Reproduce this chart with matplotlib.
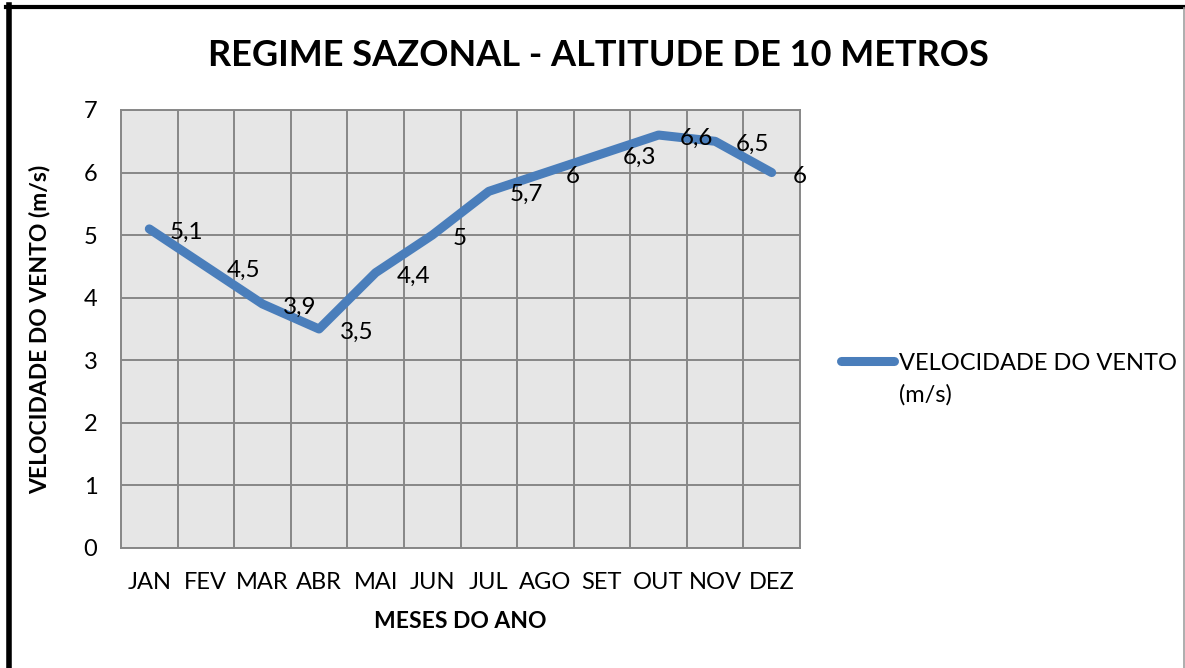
import numpy as np
import matplotlib
matplotlib.use('Agg')
import matplotlib.pyplot as plt
from matplotlib.lines import Line2D

MONTHS = ['JAN', 'FEV', 'MAR', 'ABR', 'MAI', 'JUN', 'JUL', 'AGO', 'SET', 'OUT', 'NOV', 'DEZ']
WIND_SPEED = [5.1, 4.5, 3.9, 3.5, 4.4, 5.0, 5.7, 6.0, 6.3, 6.6, 6.5, 6.0]
SERIES_LABEL = ['VELOCIDADE DO VENTO', '(m/s)']
TITLE = 'REGIME SAZONAL - ALTITUDE DE 10 METROS'
X_LABEL = 'MESES DO ANO'
Y_LABEL = 'VELOCIDADE DO VENTO (m/s)'

LINE_COLOR = '#4a7ebb'
GRID_COLOR = '#878787'
PLOT_BG = '#e6e6e6'
FONT = ['Lato', 'DejaVu Sans']
TICK_SIZE = 17
DPI = 100
W, H = 1185, 668

plt.rcParams['font.family'] = FONT

fig = plt.figure(figsize=(W / DPI, H / DPI), dpi=DPI)
ax = fig.add_axes([121 / W, 1 - 548 / H, (800 - 121) / W, (548 - 110) / H])
ax.set_facecolor(PLOT_BG)

x = np.arange(len(MONTHS))
ax.plot(x, WIND_SPEED, color=LINE_COLOR, lw=6.5, solid_capstyle='round',
        solid_joinstyle='round', zorder=3)

def fmt(v):
    return f'{v:g}'.replace('.', ',')

for xi, v in zip(x, WIND_SPEED):
    ax.annotate(fmt(v), (xi, v), xytext=(15, -2.5), textcoords='offset points',
                ha='left', va='center', fontsize=TICK_SIZE + 0.5, zorder=4,
                annotation_clip=False)

ax.set_xlim(-0.5, len(MONTHS) - 0.5)
ax.set_ylim(0, 7)
ax.set_xticks(x)
ax.set_xticklabels(MONTHS, fontsize=TICK_SIZE)
ax.set_xticks(np.arange(0.5, len(MONTHS) - 1, 1), minor=True)
ax.set_yticks(range(0, 8))
ax.tick_params(axis='y', labelsize=TICK_SIZE, length=0, pad=17)
ax.tick_params(axis='x', which='both', length=0, pad=17)
ax.grid(which='minor', axis='x', color=GRID_COLOR, lw=1.4)
ax.grid(which='major', axis='y', color=GRID_COLOR, lw=1.4)
ax.set_axisbelow(True)
for sp in ax.spines.values():
    sp.set_color(GRID_COLOR)
    sp.set_linewidth(1.4)

ax.set_xlabel(X_LABEL, fontsize=16.5, fontweight='bold', labelpad=13)
ax.set_ylabel(Y_LABEL, fontsize=16.5, fontweight='bold', labelpad=24)

fig.text(598 / W, 1 - 55 / H, TITLE, ha='center', va='center',
         fontsize=26, fontweight='bold')

# legend drawn by hand so the handle sits on the first text line, as in the original
fig.add_artist(Line2D([841 / W, 894 / W], [1 - 361 / H, 1 - 361 / H], color=LINE_COLOR,
                      lw=6.5, solid_capstyle='round'))
fig.text(899 / W, 1 - 361 / H, SERIES_LABEL[0], ha='left', va='center_baseline',
         fontsize=TICK_SIZE)
fig.text(899 / W, 1 - 393 / H, SERIES_LABEL[1], ha='left', va='center_baseline',
         fontsize=TICK_SIZE)

# outer frame
fig.add_artist(Line2D([8.5 / W, 8.5 / W], [0, 1 - 5 / H], color='black', lw=4))
fig.add_artist(Line2D([6 / W, 1], [1 - 6.5 / H, 1 - 6.5 / H], color='black', lw=3))
fig.add_artist(Line2D([1183.5 / W, 1183.5 / W], [0, 1 - 8 / H], color='#a0a0a0', lw=1.2))

fig.savefig('out.png', dpi=DPI)
